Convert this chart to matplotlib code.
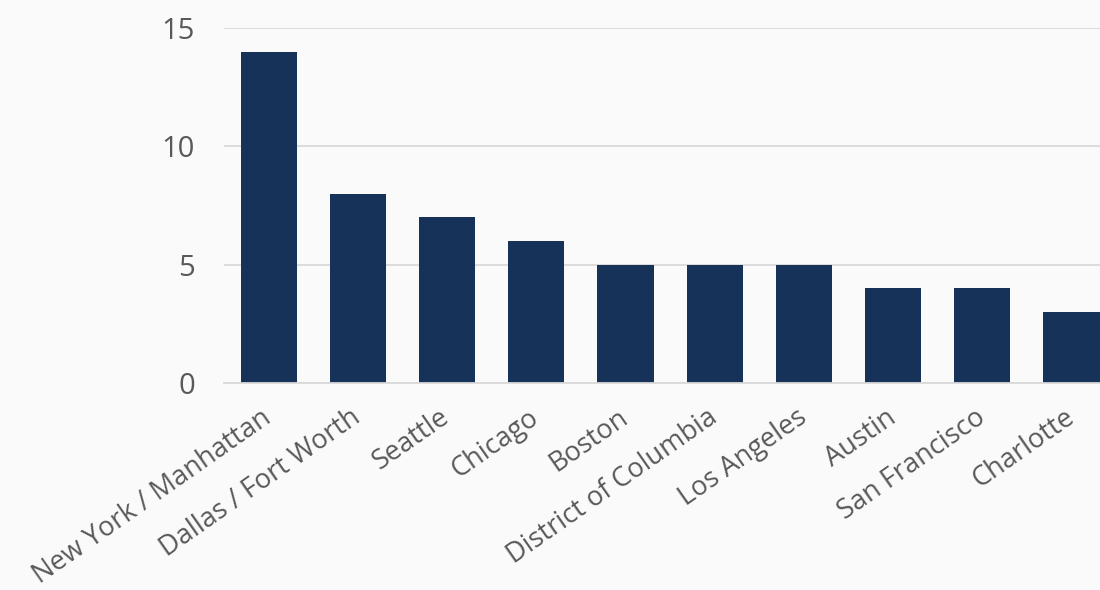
import matplotlib
matplotlib.use("Agg")
import matplotlib.pyplot as plt

categories = ["New York / Manhattan", "Dallas / Fort Worth", "Seattle", "Chicago",
              "Boston", "District of Columbia", "Los Angeles", "Austin",
              "San Francisco", "Charlotte"]
values = [14, 8, 7, 6, 5, 5, 5, 4, 4, 3]
yticks = [0, 5, 10, 15]

plt.rcParams['font.family'] = ['Open Sans', 'DejaVu Sans']

fig = plt.figure(figsize=(11, 5.9), dpi=100, facecolor='#fafafa')
ax = fig.add_axes([224/1100, 1 - 383/590, (1100-224)/1100, (383-28)/590])
ax.set_facecolor('#fafafa')

x = list(range(len(categories)))
ax.bar(x, values, width=0.63, color='#163258', zorder=3)

ax.set_xlim(-0.5, 9.32)
ax.set_ylim(0, 15)
ax.set_yticks(yticks)
ax.set_yticklabels([str(v) for v in yticks], fontsize=21, color='#595959')
ax.yaxis.grid(True, color='#d9d9d9', linewidth=1.3, zorder=0)
ax.set_xticks(x)
ax.set_xticklabels(categories, rotation=35, ha='right', va='center',
                   rotation_mode='anchor', fontsize=19.5, color='#595959')
ax.tick_params(axis='both', length=0)
ax.tick_params(axis='y', pad=21)
ax.tick_params(axis='x', pad=23)
for s in ['top', 'right', 'left']:
    ax.spines[s].set_visible(False)
ax.spines['bottom'].set_color('#d9d9d9')
ax.spines['bottom'].set_linewidth(1.3)
ax.spines['bottom'].set_zorder(4)

fig.savefig('out.png', dpi=100, facecolor='#fafafa')
